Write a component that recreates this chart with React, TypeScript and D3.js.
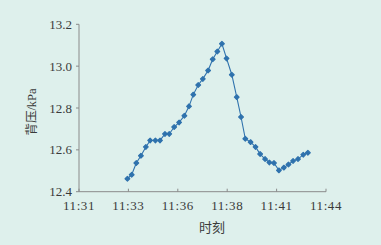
import React from "react";
import * as d3 from "d3";

// time in seconds after 11:31:00
const times = [147, 160, 174, 188, 203, 216, 232, 246, 261, 274, 289, 304, 320, 334, 347, 362, 376, 392, 406, 420, 434, 448, 464, 479, 492, 505, 521, 536, 550, 565, 578, 592, 607, 622, 636, 650, 665, 681, 695];
const pressure = [12.462, 12.481, 12.537, 12.572, 12.614, 12.645, 12.645, 12.645, 12.676, 12.676, 12.709, 12.731, 12.763, 12.808, 12.864, 12.910, 12.939, 12.979, 13.033, 13.070, 13.107, 13.037, 12.959, 12.852, 12.757, 12.653, 12.637, 12.614, 12.580, 12.556, 12.540, 12.537, 12.502, 12.515, 12.530, 12.547, 12.556, 12.577, 12.586];
const xTickValues = [0, 150, 300, 450, 600, 750];
const xTickLabels = ["11:31", "11:33", "11:36", "11:38", "11:41", "11:44"];
const yTickValues = [12.4, 12.6, 12.8, 13.0, 13.2];
const yTitle = "背压/kPa";
const xTitle = "时刻";

const W = 381, H = 245;
const left = 79, right = 326, top = 24.3, bottom = 191.7;
const font = "'Liberation Serif', 'Times New Roman', 'Noto Sans CJK SC', serif";
const blue = "#2f72ad";
const axisColor = "#8a8a8a";

export default function App() {
  const x = d3.scaleLinear().domain([0, 750]).range([left, right]);
  const y = d3.scaleLinear().domain([12.4, 13.2]).range([bottom, top]);
  const pts: [number, number][] = times.map((t, i) => [x(t), y(pressure[i])]);
  const line = d3.line()(pts) || "";
  const marker = d3.symbol().type(d3.symbolSquare).size(11)() || "";
  return (
    <svg width={W} height={H} style={{ position: "absolute", left: 0, top: 0 }} fontFamily={font}>
      <rect x={0} y={0} width={W} height={H} fill="#def0ec" />
      <line x1={left} x2={left} y1={top} y2={bottom} stroke={axisColor} strokeWidth={1} />
      <line x1={left} x2={right} y1={bottom} y2={bottom} stroke={axisColor} strokeWidth={1} />
      {yTickValues.map((v) => (
        <g key={v}>
          <line x1={left - 3} x2={left} y1={y(v)} y2={y(v)} stroke={axisColor} />
          <text x={left - 7} y={y(v)} dy="0.35em" textAnchor="end" fontSize={13} fill="#3a3a3a">
            {v.toFixed(1)}
          </text>
        </g>
      ))}
      {xTickValues.map((v, i) => (
        <g key={v}>
          <line x1={x(v)} x2={x(v)} y1={bottom - 3} y2={bottom} stroke={axisColor} />
          <text x={x(v)} y={210} textAnchor="middle" fontSize={13} letterSpacing={0.6} fill="#3a3a3a">
            {xTickLabels[i]}
          </text>
        </g>
      ))}
      <path d={line} fill="none" stroke={blue} strokeWidth={1.1} />
      {pts.map((p, i) => (
        <path key={i} d={marker} transform={`translate(${p[0]},${p[1]}) rotate(45)`} fill={blue} stroke={blue} strokeWidth={1.2} strokeLinejoin="round" />
      ))}
      <text transform={`translate(36,112) rotate(-90)`} textAnchor="middle" fontSize={12.5} fill="#3a3a3a">
        {yTitle}
      </text>
      <text x={212} y={232} textAnchor="middle" fontSize={13} fill="#3a3a3a">
        {xTitle}
      </text>
    </svg>
  );
}
